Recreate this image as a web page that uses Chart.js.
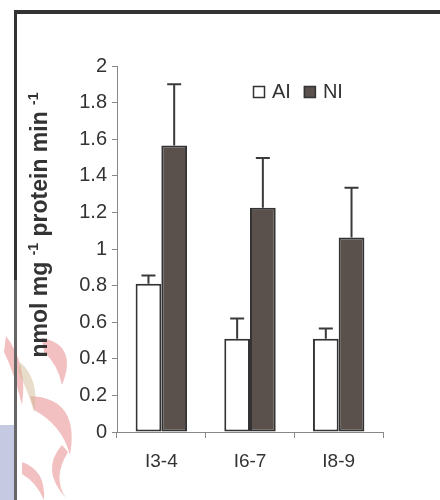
<!DOCTYPE html>
<html><head><meta charset="utf-8">
<script src="https://cdn.jsdelivr.net/npm/chart.js@4"></script>
<style>html,body{margin:0;padding:0;background:#fff;overflow:hidden}</style>
</head><body>
<canvas id="c" width="440" height="500"></canvas>
<script>
// ---- data ----
const categories = ['I3-4', 'I6-7', 'I8-9'];
const seriesNames = ['AI', 'NI'];
const aiValues = [0.81, 0.51, 0.51];
const aiErrors = [0.045, 0.11, 0.055];
const niValues = [1.565, 1.225, 1.063];
const niErrors = [0.335, 0.272, 0.272];
const yTickValues = [0, 0.2, 0.4, 0.6, 0.8, 1, 1.2, 1.4, 1.6, 1.8, 2];
const yTickLabels = ['0', '0.2', '0.4', '0.6', '0.8', '1', '1.2', '1.4', '1.6', '1.8', '2'];
const yTitleParts = [['nmol mg ', false], ['-1', true], [' protein min ', false], ['-1', true]];

const FONT = '"Liberation Sans", Arial, sans-serif';
const TXT = '#333333';
const EDGE = '#333333';
const NI_FILL = '#5a514c';

const errorBars = {
  id: 'errorBars',
  afterDatasetsDraw(chart) {
    const ctx = chart.ctx, y = chart.scales.y;
    const errs = [aiErrors, niErrors];
    ctx.save();
    ctx.strokeStyle = '#3a3a3a';
    ctx.lineWidth = 2;
    chart.data.datasets.forEach((ds, di) => {
      const meta = chart.getDatasetMeta(di);
      meta.data.forEach((el, i) => {
        const top = y.getPixelForValue(ds.data[i] + errs[di][i]);
        ctx.beginPath();
        ctx.moveTo(el.x, el.y);
        ctx.lineTo(el.x, top);
        ctx.moveTo(el.x - 7, top);
        ctx.lineTo(el.x + 7, top);
        ctx.stroke();
      });
    });
    ctx.restore();
  }
};

function leaf(ctx, pts) {
  ctx.beginPath();
  ctx.moveTo(pts[0], pts[1]);
  for (let i = 2; i < pts.length; i += 4) ctx.quadraticCurveTo(pts[i], pts[i + 1], pts[i + 2], pts[i + 3]);
  ctx.closePath();
  ctx.fill();
}

const decor = {
  id: 'decor',
  beforeDraw(chart) {
    const ctx = chart.ctx;
    ctx.save();
    ctx.fillStyle = '#fff';
    ctx.fillRect(0, 0, chart.width, chart.height);
    // faint watermark crest (background decoration)
    ctx.fillStyle = '#c6c9e2';
    ctx.fillRect(0, 425, 16, 75);
    ctx.fillStyle = 'rgba(232,140,140,0.55)';
    leaf(ctx, [42, 338, 78, 345, 62, 385, 58, 365, 44, 352]);
    leaf(ctx, [30, 396, 80, 398, 70, 455, 62, 425, 34, 410]);
    leaf(ctx, [62, 445, 40, 470, 66, 498, 52, 478, 68, 452]);
    leaf(ctx, [6, 336, 28, 365, 22, 405, 14, 372, 4, 352]);
    leaf(ctx, [22, 462, 46, 470, 44, 500, 36, 482, 22, 474]);
    ctx.fillStyle = 'rgba(210,185,150,0.5)';
    leaf(ctx, [20, 362, 40, 380, 34, 412, 28, 390, 18, 372]);
    ctx.restore();
  },
  afterDraw(chart) {
    const ctx = chart.ctx, a = chart.chartArea;
    ctx.save();
    // frame
    ctx.fillStyle = '#333';
    ctx.fillRect(14, 10, chart.width - 14, 4);
    ctx.fillRect(14, 10, 3, 270);
    ctx.fillStyle = '#666';
    ctx.fillRect(14, 280, 3, chart.height - 280);
    // y title with superscripts
    const main = 'bold 23px ' + FONT, sup = 'bold 14px ' + FONT;
    let total = 0;
    yTitleParts.forEach(([t, s]) => { ctx.font = s ? sup : main; total += ctx.measureText(t).width; });
    ctx.translate(47, 225);
    ctx.rotate(-Math.PI / 2);
    ctx.fillStyle = TXT;
    ctx.textBaseline = 'alphabetic';
    ctx.textAlign = 'left';
    let x = -total / 2;
    yTitleParts.forEach(([t, s]) => {
      ctx.font = s ? sup : main;
      ctx.fillText(t, x, s ? -9 : 0);
      x += ctx.measureText(t).width;
    });
    ctx.restore();
    // legend
    ctx.save();
    const lx = a.left + 136, ly = 86;
    ctx.font = '20px ' + FONT;
    ctx.textBaseline = 'alphabetic';
    ctx.fillStyle = TXT;
    let cx = lx;
    chart.data.datasets.forEach((ds, i) => {
      ctx.fillStyle = ds.backgroundColor;
      ctx.fillRect(cx, ly, 12, 12);
      ctx.strokeStyle = EDGE;
      ctx.lineWidth = 1.5;
      ctx.strokeRect(cx + 0.5, ly + 0.5, 11, 11);
      ctx.fillStyle = TXT;
      ctx.fillText(seriesNames[i], cx + 19, ly + 12);
      cx += 19 + ctx.measureText(seriesNames[i]).width + 13;
    });
    ctx.restore();
  }
};

new Chart(document.getElementById('c'), {
  type: 'bar',
  data: {
    labels: categories,
    datasets: [
      { label: seriesNames[0], data: aiValues, backgroundColor: '#ffffff', borderColor: EDGE, borderWidth: 2, borderSkipped: false },
      { label: seriesNames[1], data: niValues, backgroundColor: NI_FILL, borderColor: EDGE, borderWidth: 2, borderSkipped: false }
    ]
  },
  options: {
    responsive: false,
    animation: false,
    events: [],
    categoryPercentage: 0.58,
    barPercentage: 1.0,
    layout: { padding: { left: 0, top: 66, right: 57, bottom: 0 } },
    plugins: { legend: { display: false }, tooltip: { enabled: false } },
    scales: {
      x: {
        grid: { display: true, drawOnChartArea: false, drawTicks: true, tickLength: 6, color: '#888', offset: true },
        border: { display: true, color: '#888', width: 1 },
        ticks: { color: TXT, font: { family: FONT, size: 19 }, padding: 12 },
        afterFit(s) { s.height = 68; }
      },
      y: {
        min: 0, max: 2,
        afterBuildTicks(s) { s.ticks = yTickValues.map(v => ({ value: v })); },
        grid: { display: true, drawOnChartArea: false, drawTicks: true, tickLength: 5, color: '#888' },
        border: { display: true, color: '#888', width: 1 },
        ticks: { color: TXT, font: { family: FONT, size: 20 }, padding: 5,
                 callback(v, i) { return yTickLabels[i]; } },
        afterFit(s) { s.width = 117; }
      }
    }
  },
  plugins: [errorBars, decor]
});
</script>
</body></html>
